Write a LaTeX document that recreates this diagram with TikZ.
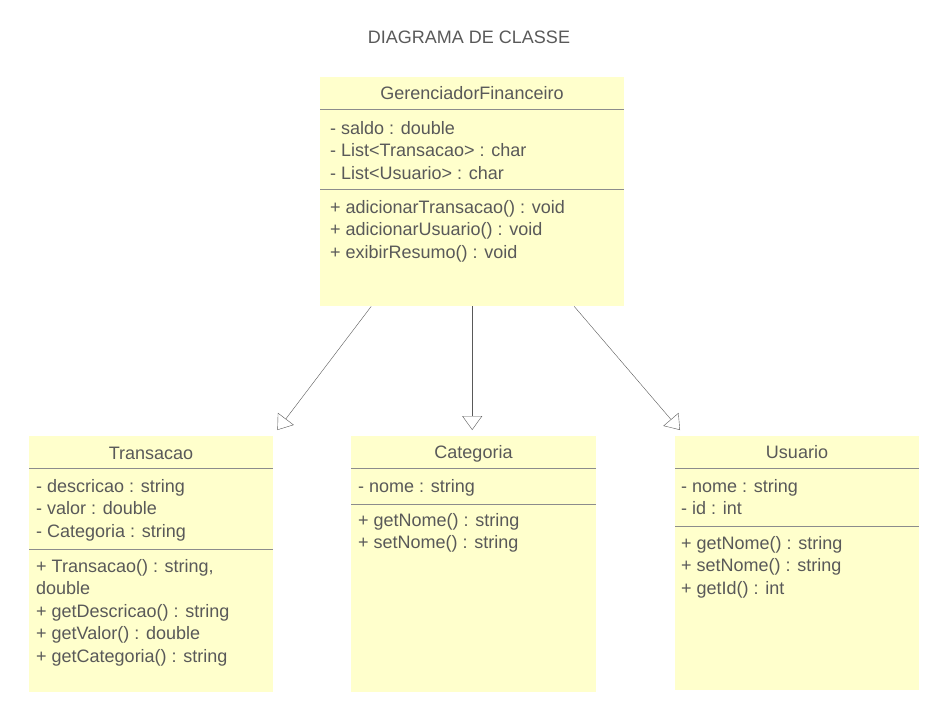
\documentclass[tikz,border=0pt]{standalone}
\usepackage{fontspec}
\setmainfont{Liberation Sans}
\usetikzlibrary{arrows.meta, positioning}

\definecolor{umlyellow}{HTML}{FFFFCC}
\definecolor{umltext}{gray}{0.35}
\definecolor{umlsep}{gray}{0.55}

\tikzset{
  classbox/.style={fill=umlyellow, draw=none, inner sep=0pt, anchor=north west},
  classname/.style={text=umltext, inner sep=0pt, anchor=base},
  members/.style={text=umltext, inner sep=0pt, anchor=north west, align=left},
  sepline/.style={draw=umlsep, double=umlyellow, double distance=1.2pt, line width=0.9pt},
  inherit/.style={draw=umltext, -{Triangle[open, length=14pt, width=20pt]}},
}

\begin{document}
\begin{tikzpicture}[x=1pt, y=-1pt, font=\fontsize{18}{22.5}\selectfont]
  \useasboundingbox (0,0) rectangle (942,726);

  \node[classname] (diagtitle) at (469,43) {DIAGRAMA DE CLASSE};

  % the four class boxes
  \node[classbox, minimum width=304pt, minimum height=229pt] (ger) at (320,77) {};
  \node[classbox, minimum width=244pt, minimum height=256pt] (trans) at (29,436) {};
  \node[classbox, minimum width=245pt, minimum height=256pt] (cat) at (351,436) {};
  \node[classbox, minimum width=244pt, minimum height=254pt] (usu) at (675,436) {};

  % compartment separators
  \draw[sepline] (320,108) -- (624,108);
  \draw[sepline] (320,188) -- (624,188);
  \draw[sepline] (29,467) -- (273,467);
  \draw[sepline] (29,548) -- (273,548);
  \draw[sepline] (351,467) -- (596,467);
  \draw[sepline] (351,503) -- (596,503);
  \draw[sepline] (675,467) -- (919,467);
  \draw[sepline] (675,525) -- (919,525);

  % GerenciadorFinanceiro
  \node[classname] (ger-name) at (472,99) {GerenciadorFinanceiro};
  \node[members] (ger-attr) at (330,118.25)
    {\strut- saldo : double\\- List<Transacao> : char\\- List<Usuario> : char};
  \node[members] (ger-meth) at (330,197.25)
    {\strut+ adicionarTransacao() : void\\+ adicionarUsuario() : void\\+ exibirResumo() : void};

  % Transacao
  \node[classname] (trans-name) at (151,459) {Transacao};
  \node[members] (trans-attr) at (36,476.25)
    {\strut- descricao : string\\- valor : double\\- Categoria : string};
  \node[members] (trans-meth) at (36,556.25)
    {\strut+ Transacao() : string,\\double\\+ getDescricao() : string\\+ getValor() : double\\+ getCategoria() : string};

  % Categoria
  \node[classname] (cat-name) at (473.5,458) {Categoria};
  \node[members] (cat-attr) at (358,476.25) {\strut- nome : string};
  \node[members] (cat-meth) at (358,510.25)
    {\strut+ getNome() : string\\+ setNome() : string};

  % Usuario
  \node[classname] (usu-name) at (797,458) {Usuario};
  \node[members] (usu-attr) at (681,476.25)
    {\strut- nome : string\\- id : int};
  \node[members] (usu-meth) at (681,533.25)
    {\strut+ getNome() : string\\+ setNome() : string\\+ getId() : int};

  % generalizations
  \draw[inherit] ([xshift=-101pt]ger.south) -- ([xshift=4pt, yshift=6pt]trans.north east);
  \draw[inherit] (ger.south) -- ([yshift=6pt]ger.south |- cat.north);
  \draw[inherit] ([xshift=102pt]ger.south) -- ([xshift=5pt, yshift=6pt]usu.north west);
\end{tikzpicture}
\end{document}
